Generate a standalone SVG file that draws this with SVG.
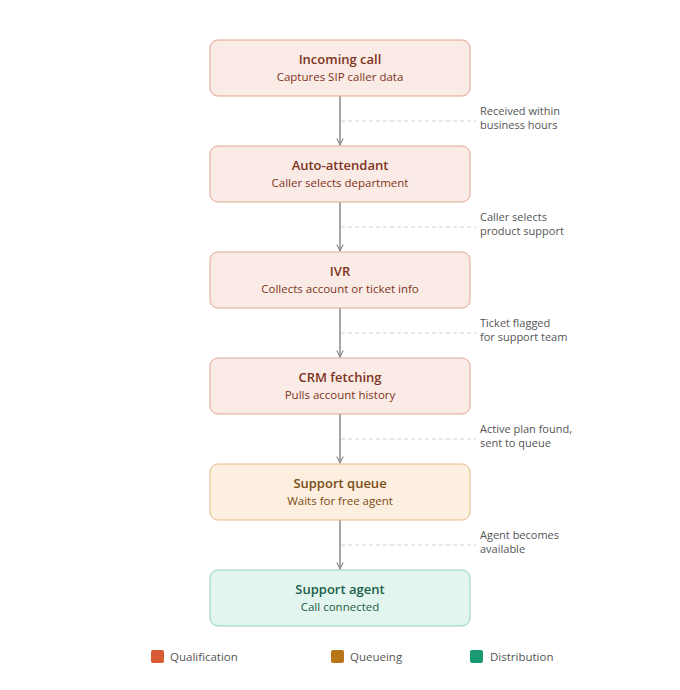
<svg xmlns="http://www.w3.org/2000/svg" width="680" height="690" viewBox="0 0 680 690">
<defs>
<marker id="arr" viewBox="0 0 10 10" refX="9" refY="5" markerWidth="8" markerHeight="8" orient="auto" markerUnits="userSpaceOnUse">
<path d="M1,1 L9,5 L1,9" fill="none" stroke="#8a8a8a" stroke-width="1.4"/>
</marker>
<style>
text{font-family:"Open Sans","Noto Sans","Liberation Sans",sans-serif}
.t{font-size:13px;font-weight:600;text-anchor:middle}
.s{font-size:11.5px;text-anchor:middle}
.q rect{fill:#fbebe6;stroke:#e3a594;stroke-width:1}
.q text{fill:#7d3422}
.u rect{fill:#fcefdf;stroke:#e2bb86;stroke-width:1}
.u text{fill:#7a4c14}
.d rect{fill:#e2f5ee;stroke:#92d2b8;stroke-width:1}
.d text{fill:#1c5e48}
.e{stroke:#8a8a8a;stroke-width:1.5;fill:none}
.g{stroke:#d4d4d4;stroke-width:1;stroke-dasharray:4 3;fill:none}
.l{font-size:11px;fill:#555}
.lg{font-size:11.5px;fill:#555}
</style>
</defs>
<g id="connectors">
<line class="e" x1="340" y1="96" x2="340" y2="145" marker-end="url(#arr)"/>
<line class="e" x1="340" y1="202" x2="340" y2="251" marker-end="url(#arr)"/>
<line class="e" x1="340" y1="308" x2="340" y2="357" marker-end="url(#arr)"/>
<line class="e" x1="340" y1="414" x2="340" y2="463" marker-end="url(#arr)"/>
<line class="e" x1="340" y1="520" x2="340" y2="569" marker-end="url(#arr)"/>
<line class="g" x1="341" y1="121" x2="476" y2="121"/>
<line class="g" x1="341" y1="227" x2="476" y2="227"/>
<line class="g" x1="341" y1="333" x2="476" y2="333"/>
<line class="g" x1="341" y1="439" x2="476" y2="439"/>
<line class="g" x1="341" y1="545" x2="476" y2="545"/>
<text class="l" x="480" y="115">Received within</text>
<text class="l" x="480" y="129">business hours</text>
<text class="l" x="480" y="221">Caller selects</text>
<text class="l" x="480" y="235">product support</text>
<text class="l" x="480" y="327">Ticket flagged</text>
<text class="l" x="480" y="341">for support team</text>
<text class="l" x="480" y="433">Active plan found,</text>
<text class="l" x="480" y="447">sent to queue</text>
<text class="l" x="480" y="539">Agent becomes</text>
<text class="l" x="480" y="553">available</text>
</g>
<g id="incoming-call" class="q">
<rect x="210" y="40" width="260" height="56" rx="8"/>
<text class="t" x="340" y="64">Incoming call</text>
<text class="s" x="340" y="81">Captures SIP caller data</text>
</g>
<g id="auto-attendant" class="q">
<rect x="210" y="146" width="260" height="56" rx="8"/>
<text class="t" x="340" y="170">Auto-attendant</text>
<text class="s" x="340" y="187">Caller selects department</text>
</g>
<g id="ivr" class="q">
<rect x="210" y="252" width="260" height="56" rx="8"/>
<text class="t" x="340" y="276">IVR</text>
<text class="s" x="340" y="293">Collects account or ticket info</text>
</g>
<g id="crm-fetching" class="q">
<rect x="210" y="358" width="260" height="56" rx="8"/>
<text class="t" x="340" y="382">CRM fetching</text>
<text class="s" x="340" y="399">Pulls account history</text>
</g>
<g id="support-queue" class="u">
<rect x="210" y="464" width="260" height="56" rx="8"/>
<text class="t" x="340" y="488">Support queue</text>
<text class="s" x="340" y="505">Waits for free agent</text>
</g>
<g id="support-agent" class="d">
<rect x="210" y="570" width="260" height="56" rx="8"/>
<text class="t" x="340" y="594">Support agent</text>
<text class="s" x="340" y="611">Call connected</text>
</g>
<g id="legend">
<rect x="151" y="650" width="13" height="13" rx="2" fill="#d85a35"/>
<text class="lg" x="170" y="661">Qualification</text>
<rect x="331" y="650" width="13" height="13" rx="2" fill="#b87619"/>
<text class="lg" x="350" y="661">Queueing</text>
<rect x="470" y="650" width="13" height="13" rx="2" fill="#1a9a72"/>
<text class="lg" x="490" y="661">Distribution</text>
</g>
</svg>
